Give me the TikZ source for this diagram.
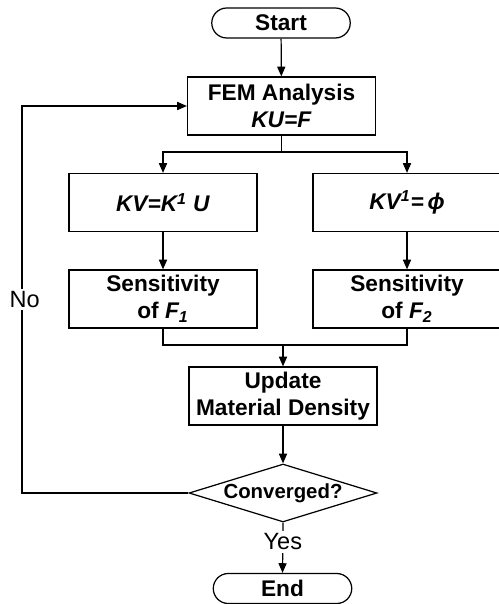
\documentclass[tikz,border=0pt]{standalone}
\usepackage{fontspec}
\setmainfont{Liberation Sans}
\usetikzlibrary{shapes.misc,shapes.geometric,arrows.meta}

\newcommand{\chartsize}{\fontsize{12.9}{15.4}\selectfont}

\tikzset{
  box/.style={draw,rectangle,minimum width=3.76cm,minimum height=1.16cm,align=center,font=\chartsize\bfseries,inner sep=1pt},
  term/.style={draw,rounded rectangle,minimum width=2.84cm,minimum height=0.6cm,font=\chartsize\bfseries,inner sep=1pt},
  test/.style={draw,diamond,minimum width=3.76cm,minimum height=1.16cm,inner xsep=-8pt,inner ysep=-3pt,shape aspect=3.24,font=\fontsize{11.6}{14}\selectfont\bfseries},
  lbl/.style={fill=white,inner sep=1.5pt,font=\fontsize{13.4}{15}\selectfont}
}

\begin{document}
\begin{tikzpicture}[x=0.02cm,y=-0.02cm,line width=0.7pt,>={Triangle[length=5.5pt,width=4.6pt]}]
\useasboundingbox (0,0) rectangle (498,604);

\node[term] (start) at (281,23) {Start};
\node[box] (fem) at (281.5,106) {FEM Analysis\\\textit{KU=F}};
\node[box] (kvl) at (163,202.5) {\textit{KV=K\textsuperscript{1} U}};
\node[box] (kvr) at (407,202.5) {\textit{KV\textsuperscript{1}=\,ϕ}};
\node[box] (senl) at (163,299) {Sensitivity\\of \textit{F\textsubscript{1}}};
\node[box] (senr) at (407,299) {Sensitivity\\of \textit{F\textsubscript{2}}};
\node[box] (upd) at (283,396) {Update\\Material Density};
\node[test] (conv) at (283,493) {Converged?};
\node[term] (end) at (282.5,588.5) {End};

\coordinate (split) at (281.5,152);
\coordinate (merge) at (283,345);
\coordinate (loop) at (22,493);

\draw[->] (start) -- (fem);
% branch into the two solves
\draw (fem.south) -- (split);
\draw[->] (split) -| (kvl.north);
\draw[->] (split) -| (kvr.north);
\draw[->] (kvl) -- (senl);
\draw[->] (kvr) -- (senr);
% join the sensitivities
\draw (senl.south) |- (merge) -| (senr.south);
\draw[->] (merge) -- (upd.north);
\draw[->] (upd) -- (conv);
% back to the analysis
\draw[->] (conv.west) -- (loop) |- node[lbl,pos=0.25,xshift=1.5pt]{No} (fem.west);
\draw[->] (conv.south) -- node[lbl,pos=0.38]{Yes} (end.north);
\end{tikzpicture}
\end{document}
